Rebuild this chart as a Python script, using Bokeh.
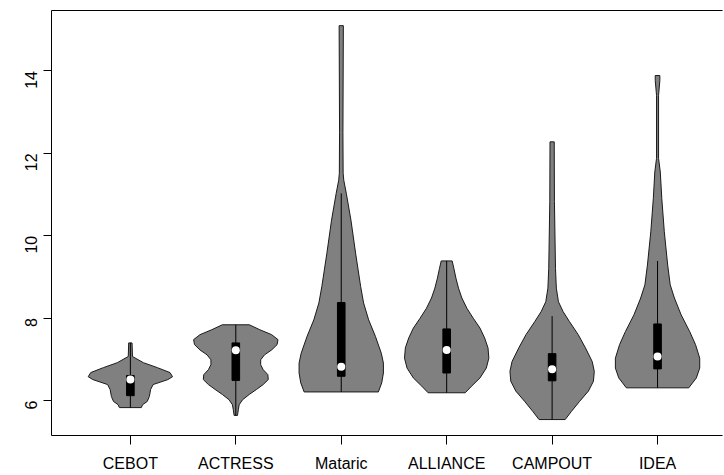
import math
from bokeh.plotting import figure
from bokeh.models import Range1d, LinearAxis, FixedTicker, ColumnDataSource
from bokeh.embed import file_html
from bokeh.resources import INLINE

categories = ["CEBOT", "ACTRESS", "Mataric", "ALLIANCE", "CAMPOUT", "IDEA"]

# violin outlines: y values and relative density (max = 1)
cebot_y = [5.83, 5.90, 5.98, 6.10, 6.27, 6.39, 6.51, 6.58, 6.68, 6.80, 6.92, 7.07, 7.40]
cebot_d = [0.26, 0.29, 0.40, 0.45, 0.48, 0.54, 0.89, 1.0, 0.94, 0.64, 0.31, 0.05, 0.04]

actress_y = [5.64, 5.78, 5.90, 6.02, 6.15, 6.27, 6.39, 6.51, 6.63, 6.75, 6.87, 6.99, 7.11, 7.23, 7.36, 7.48, 7.60, 7.72, 7.84]
actress_d = [0.04, 0.06, 0.08, 0.16, 0.32, 0.49, 0.65, 0.77, 0.76, 0.65, 0.59, 0.59, 0.68, 0.85, 0.98, 1.0, 0.85, 0.57, 0.32]

mataric_y = [6.21, 6.43, 6.67, 6.91, 7.15, 7.56, 7.96, 8.37, 8.77, 9.58, 10.38, 11.03, 11.35, 11.52, 12.5, 15.10]
mataric_d = [0.88, 0.96, 1.0, 1.0, 0.95, 0.81, 0.65, 0.53, 0.46, 0.34, 0.23, 0.12, 0.06, 0.045, 0.04, 0.05]

alliance_y = [6.19, 6.35, 6.55, 6.79, 7.03, 7.28, 7.52, 7.76, 8.00, 8.24, 8.49, 8.73, 8.97, 9.21, 9.39]
alliance_d = [0.44, 0.59, 0.79, 0.94, 1.0, 0.98, 0.90, 0.79, 0.63, 0.48, 0.36, 0.28, 0.22, 0.17, 0.13]

campout_y = [5.54, 5.74, 5.98, 6.23, 6.47, 6.71, 6.95, 7.28, 7.60, 7.92, 8.16, 8.40, 8.73, 9.21, 10.83, 12.28]
campout_d = [0.31, 0.46, 0.65, 0.86, 0.98, 1.0, 0.95, 0.79, 0.62, 0.41, 0.26, 0.15, 0.10, 0.08, 0.055, 0.05]

idea_y = [6.31, 6.55, 6.79, 7.03, 7.36, 7.68, 8.08, 8.49, 8.81, 9.29, 10.10, 10.91, 11.55, 11.88, 13.41, 13.77, 13.89]
idea_d = [0.74, 0.92, 1.0, 1.0, 0.90, 0.76, 0.56, 0.40, 0.30, 0.24, 0.16, 0.10, 0.065, 0.024, 0.024, 0.055, 0.055]

# box statistics
lower = [5.83, 5.64, 6.21, 6.19, 5.54, 6.31]
q1 = [6.12, 6.49, 6.59, 6.67, 6.48, 6.77]
median = [6.51, 7.22, 6.82, 7.23, 6.76, 7.07]
q3 = [6.61, 7.40, 8.38, 7.74, 7.14, 7.86]
upper = [7.40, 7.84, 11.03, 9.39, 8.05, 9.39]

y_ticks = [6, 8, 10, 12, 14]

violins_y = [cebot_y, actress_y, mataric_y, alliance_y, campout_y, idea_y]
violins_d = [cebot_d, actress_d, mataric_d, alliance_d, campout_d, idea_d]
positions = list(range(1, len(categories) + 1))
HALF = 0.4

FONT = "Liberation Sans"

p = figure(width=723, height=474, output_backend="svg", toolbar_location=None,
           x_range=Range1d(0.252, 6.616), y_range=Range1d(5.153, 15.468),
           x_axis_location=None, y_axis_location=None,
           min_border_left=51, min_border_right=1, min_border_top=10, min_border_bottom=38)
p.outline_line_color = None
p.xgrid.visible = False
p.ygrid.visible = False
p.background_fill_color = "white"
p.border_fill_color = "white"

xs, ys = [], []
for pos, yy, dd in zip(positions, violins_y, violins_d):
    left = [pos - HALF * d for d in dd]
    right = [pos + HALF * d for d in reversed(dd)]
    xs.append(left + right)
    ys.append(list(yy) + list(reversed(yy)))
p.patches(xs=xs, ys=ys, fill_color="#808080", line_color="#1a1a1a", line_width=1)

src = ColumnDataSource(dict(x=positions, lo=lower, q1=q1, med=median, q3=q3, hi=upper))
p.segment(x0="x", y0="lo", x1="x", y1="hi", source=src, line_color="black", line_width=1)
p.vbar(x="x", width=0.072, bottom="q1", top="q3", source=src, fill_color="black", line_color="black")
p.scatter(x="x", y="med", source=src, size=8, fill_color="white", line_color=None)

# axes
yax = LinearAxis(ticker=FixedTicker(ticks=y_ticks))
yax.major_label_orientation = math.pi / 2
yax.major_label_text_font = FONT
yax.major_label_text_font_size = "16px"
yax.major_label_text_color = "black"
yax.major_tick_out = 8
yax.major_tick_in = 0
yax.minor_tick_line_color = None
yax.major_label_standoff = 12
yax.axis_line_color = "black"
p.add_layout(yax, "left")

xax = LinearAxis(ticker=FixedTicker(ticks=positions))
xax.major_label_overrides = {pos: name for pos, name in zip(positions, categories)}
xax.major_label_text_font = FONT
xax.major_label_text_font_size = "16px"
xax.major_label_text_color = "black"
xax.major_tick_out = 9
xax.major_tick_in = 0
xax.minor_tick_line_color = None
xax.major_label_standoff = 10
xax.axis_line_color = "black"
p.add_layout(xax, "below")

tax = LinearAxis(ticker=FixedTicker(ticks=[]))
tax.major_tick_out = 0
tax.major_tick_in = 0
tax.minor_tick_line_color = None
tax.major_label_standoff = 0
tax.major_label_text_font_size = "0px"
tax.axis_line_color = "black"
p.add_layout(tax, "above")

open("out.html", "w").write(file_html(p, INLINE))
